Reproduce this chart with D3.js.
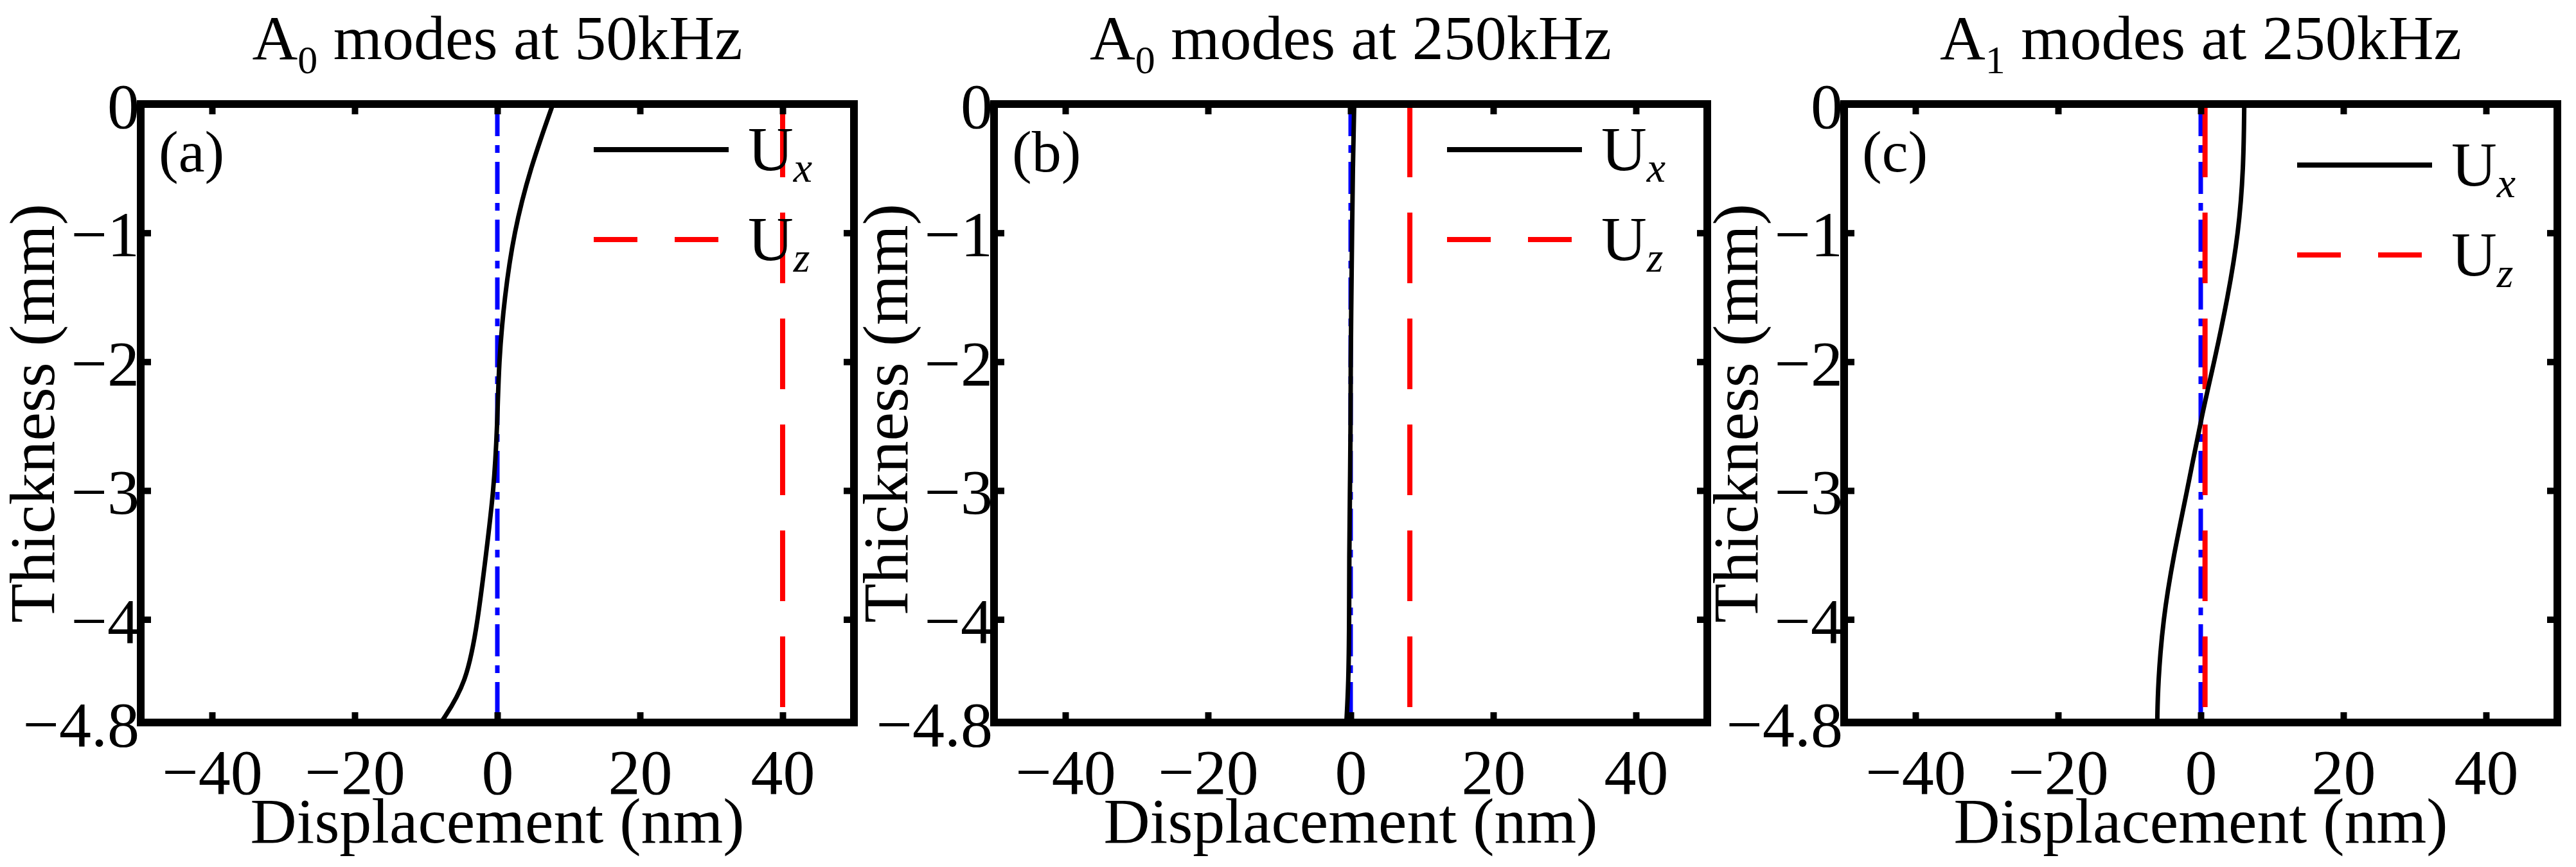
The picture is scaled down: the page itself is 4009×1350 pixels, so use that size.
<!DOCTYPE html>
<html>
<head>
<meta charset="utf-8">
<script src="https://cdn.jsdelivr.net/npm/d3@7"></script>
<style>
  body { margin: 0; background: #fff; }
  text { font-family: "Liberation Serif", "Times New Roman", serif; }
</style>
</head>
<body>
<svg id="chart"></svg>
<script>
// thickness samples (mm)
const depthA = [0, -0.5, -1, -1.5, -2, -2.5, -3, -3.5, -4, -4.5, -4.8];
const depthC = [0, -0.5, -1, -1.5, -2, -2.4, -3, -3.5, -4, -4.5, -4.8];

// panel (a): A0 at 50 kHz
const uxA = [7.8, 4.6, 2.3, 1.0, 0.2, 0.0, -0.5, -1.6, -2.7, -4.3, -7.9];
const uzA = 40;
// panel (b): A0 at 250 kHz
const uxB = [0.5, 0.3, 0.2, 0.1, 0.0, 0.0, -0.1, -0.2, -0.2, -0.3, -0.6];
const uzB = 8.3;
// panel (c): A1 at 250 kHz
const uxC = [6.1, 6.0, 5.3, 3.8, 1.9, 0.2, -1.9, -3.8, -5.3, -6.0, -6.1];
const uzC = 0.6;

const xTicks = [-40, -20, 0, 20, 40];
const yTicks = [0, -1, -2, -3, -4, -4.8];

const panels = [
  { left: 219, ux: uxA, depth: depthA, uz: uzA, mode: "A", sub: "0", freq: "50kHz", tag: "(a)", legY: 71 },
  { left: 1547, ux: uxB, depth: depthA, uz: uzB, mode: "A", sub: "0", freq: "250kHz", tag: "(b)", legY: 71 },
  { left: 2870, ux: uxC, depth: depthC, uz: uzC, mode: "A", sub: "1", freq: "250kHz", tag: "(c)", legY: 95 }
];

const W = 4009, H = 1350;
const plotTop = 162, plotH = 963, plotW = 1110;

const svg = d3.select("#chart").attr("width", W).attr("height", H);

panels.forEach(p => {
  const x = d3.scaleLinear().domain([-50, 50]).range([0, plotW]);
  const y = d3.scaleLinear().domain([-4.8, 0]).range([plotH, 0]);
  const g = svg.append("g").attr("transform", `translate(${p.left},${plotTop})`);

  // title
  const t = svg.append("text")
    .attr("x", p.left + plotW / 2).attr("y", 92)
    .attr("text-anchor", "middle").style("font-size", "98px");
  t.append("tspan").text(p.mode);
  t.append("tspan").attr("dy", 22).style("font-size", "62px").text(p.sub);
  t.append("tspan").attr("dy", -22).text(" modes at " + p.freq);

  // zero reference, dash-dot blue
  g.append("line")
    .attr("x1", x(0)).attr("x2", x(0)).attr("y1", y(0)).attr("y2", y(-4.8))
    .attr("stroke", "#0000ff").attr("stroke-width", 7)
    .attr("stroke-dasharray", "50,14,12,14");

  // Uz dashed red
  g.append("line")
    .attr("x1", x(p.uz)).attr("x2", x(p.uz)).attr("y1", y(0) + 4).attr("y2", y(-4.8) - 4)
    .attr("stroke", "#ff0000").attr("stroke-width", 8)
    .attr("stroke-dasharray", "110,55");

  // Ux solid black
  const line = d3.line().x(d => x(d[0])).y(d => y(d[1])).curve(d3.curveBasis);
  g.append("path")
    .datum(p.ux.map((v, i) => [v, p.depth[i]]))
    .attr("d", line).attr("fill", "none")
    .attr("stroke", "#000").attr("stroke-width", 7);

  // axes
  const ax = g.append("g").attr("transform", `translate(0,${plotH})`)
    .call(d3.axisBottom(x).tickValues(xTicks).tickSize(-16).tickPadding(40)
      .tickFormat(d => d < 0 ? "\u2212" + Math.abs(d) : d));
  const ay = g.append("g")
    .call(d3.axisLeft(y).tickValues(yTicks).tickSize(-16).tickPadding(2)
      .tickFormat(d => d < 0 ? "\u2212" + Math.abs(d) : d));
  const axR = g.append("g").attr("transform", `translate(${plotW},0)`)
    .call(d3.axisRight(y).tickValues(yTicks.slice(1, 5)).tickSize(-16).tickFormat(""));
  const axT = g.append("g")
    .call(d3.axisTop(x).tickValues(xTicks).tickSize(-16).tickFormat(""));
  [ax, ay, axR, axT].forEach(a => {
    a.select(".domain").remove();
    a.selectAll("line").attr("stroke", "#000").attr("stroke-width", 10);
    a.selectAll("text").style("font-size", "100px").attr("fill", "#000");
  });
  ay.selectAll("text").attr("dy", "0.36em");

  // frame
  g.append("rect").attr("width", plotW).attr("height", plotH)
    .attr("fill", "none").attr("stroke", "#000").attr("stroke-width", 12);

  // panel tag
  g.append("text").attr("x", 28).attr("y", 105)
    .style("font-size", "92px").text(p.tag);

  // legend
  const lx1 = plotW - 405, lx2 = plotW - 195;
  g.append("line").attr("x1", lx1).attr("x2", lx2).attr("y1", p.legY).attr("y2", p.legY)
    .attr("stroke", "#000").attr("stroke-width", 8);
  g.append("line").attr("x1", lx1).attr("x2", lx2).attr("y1", p.legY + 140).attr("y2", p.legY + 140)
    .attr("stroke", "#ff0000").attr("stroke-width", 8).attr("stroke-dasharray", "68,58");
  [["x", p.legY], ["z", p.legY + 140]].forEach(([s, ly]) => {
    const lt = g.append("text").attr("x", lx2 + 30).attr("y", ly + 32).style("font-size", "98px");
    lt.append("tspan").text("U");
    lt.append("tspan").attr("dy", 18).style("font-size", "66px").style("font-style", "italic").text(s);
  });

  // axis labels
  svg.append("text").attr("x", p.left + plotW / 2).attr("y", 1312)
    .attr("text-anchor", "middle").style("font-size", "100px").text("Displacement (nm)");
  svg.append("text")
    .attr("transform", `translate(${p.left - 135},${plotTop + plotH / 2}) rotate(-90)`)
    .attr("text-anchor", "middle").style("font-size", "100px").text("Thickness (mm)");
});
</script>
</body>
</html>
